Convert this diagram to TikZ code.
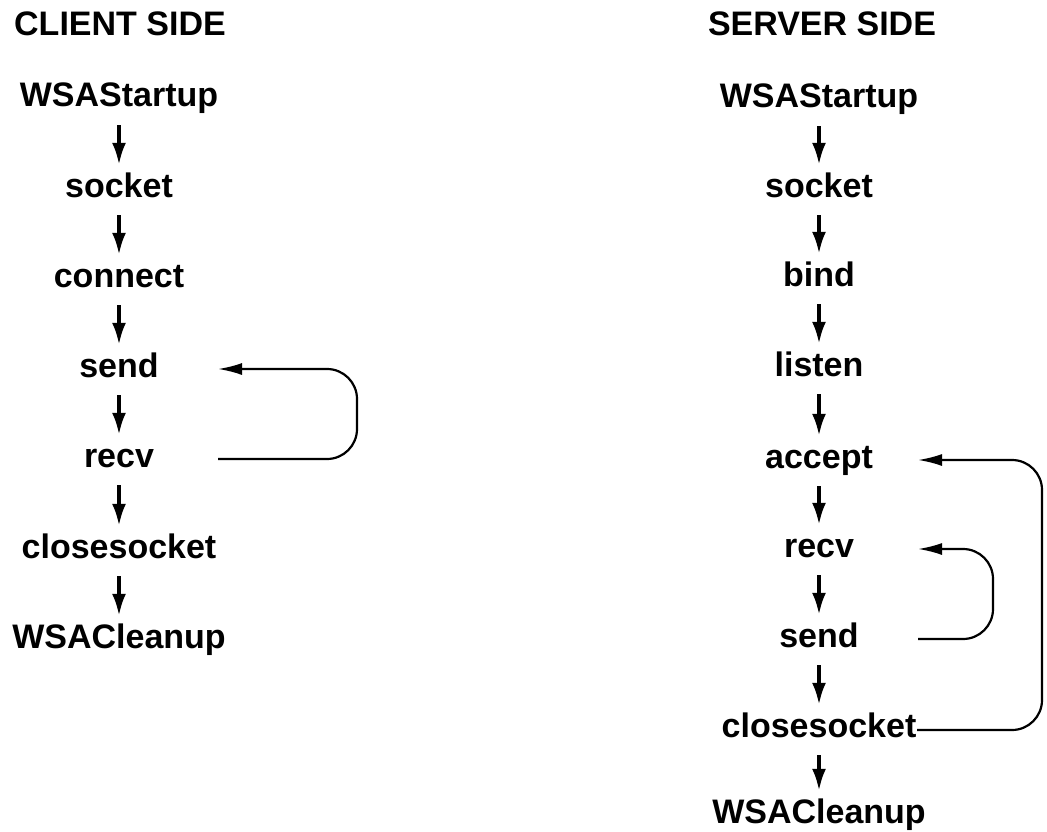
\documentclass[tikz,border=0pt]{standalone}
\usepackage{fontspec}
\setmainfont{Liberation Sans}
\usetikzlibrary{arrows.meta,calc}
\tikzset{
  x=1pt, y=-1pt,
  lbl/.style={font=\bfseries\fontsize{34}{40}\selectfont, inner sep=0pt, text height=25pt, text depth=8pt, anchor=base},
  ttl/.style={font=\bfseries\fontsize{34}{40}\selectfont, inner sep=0pt},
  flow/.style={line width=3.5pt, -{Latex[length=22pt,width=14pt]}, shorten <=10pt, shorten >=7pt},
  loopline/.style={line width=2.2pt, rounded corners=30pt, -{Latex[length=24pt,width=12pt]}}
}
\begin{document}
\begin{tikzpicture}
\useasboundingbox (0,0) rectangle (1047,832);
% titles
\node[ttl, anchor=base west] (ctitle) at (14,36) {CLIENT SIDE};
\node[ttl, anchor=base] (stitle) at (822,36) {SERVER SIDE};
% client column
\node[lbl] (cstart) at (119,107) {WSAStartup};
\node[lbl] (csock)  at (119,197) {socket};
\node[lbl] (cconn)  at (119,287) {connect};
\node[lbl] (csend)  at (119,377) {send};
\node[lbl] (crecv)  at (119,467) {recv};
\node[lbl] (cclose) at (119,558) {closesocket};
\node[lbl] (cclean) at (119,648) {WSACleanup};
\draw[flow] (cstart) -- (csock);
\draw[flow] (csock) -- (cconn);
\draw[flow] (cconn) -- (csend);
\draw[flow] (csend) -- (crecv);
\draw[flow] (crecv) -- (cclose);
\draw[flow] (cclose) -- (cclean);
% server column
\node[lbl] (sstart)  at (819,108) {WSAStartup};
\node[lbl] (ssock)   at (819,197) {socket};
\node[lbl] (sbind)   at (819,286) {bind};
\node[lbl] (slisten) at (819,376) {listen};
\node[lbl] (saccept) at (819,468) {accept};
\node[lbl] (srecv)   at (819,557) {recv};
\node[lbl] (ssend)   at (819,647) {send};
\node[lbl] (sclose)  at (819,737) {closesocket};
\node[lbl] (sclean)  at (819,823) {WSACleanup};
\draw[flow] (sstart) -- (ssock);
\draw[flow] (ssock) -- (sbind);
\draw[flow] (sbind) -- (slisten);
\draw[flow] (slisten) -- (saccept);
\draw[flow] (saccept) -- (srecv);
\draw[flow] (srecv) -- (ssend);
\draw[flow] (ssend) -- (sclose);
\draw[flow] (sclose) -- (sclean);
% loop coordinates
\coordinate (cra) at ([xshift=99pt,yshift=8pt]crecv.base);
\coordinate (crb) at ([xshift=99pt,yshift=8pt]csend.base);
\coordinate (cx)  at (357,0);
\coordinate (sra) at ([xshift=99pt,yshift=8pt]ssend.base);
\coordinate (srb) at ([xshift=99pt,yshift=8pt]srecv.base);
\coordinate (sx)  at (993,0);
\coordinate (soa) at ([xshift=98pt,yshift=7pt]sclose.base);
\coordinate (sob) at ([xshift=99pt,yshift=8pt]saccept.base);
\coordinate (ox)  at (1042,0);
% loops
\draw[loopline] (cra) -- (cra -| cx) -- (crb -| cx) -- (crb);
\draw[loopline] (sra) -- (sra -| sx) -- (srb -| sx) -- (srb);
\draw[loopline] (soa) -- (soa -| ox) -- (sob -| ox) -- (sob);
\end{tikzpicture}
\end{document}
